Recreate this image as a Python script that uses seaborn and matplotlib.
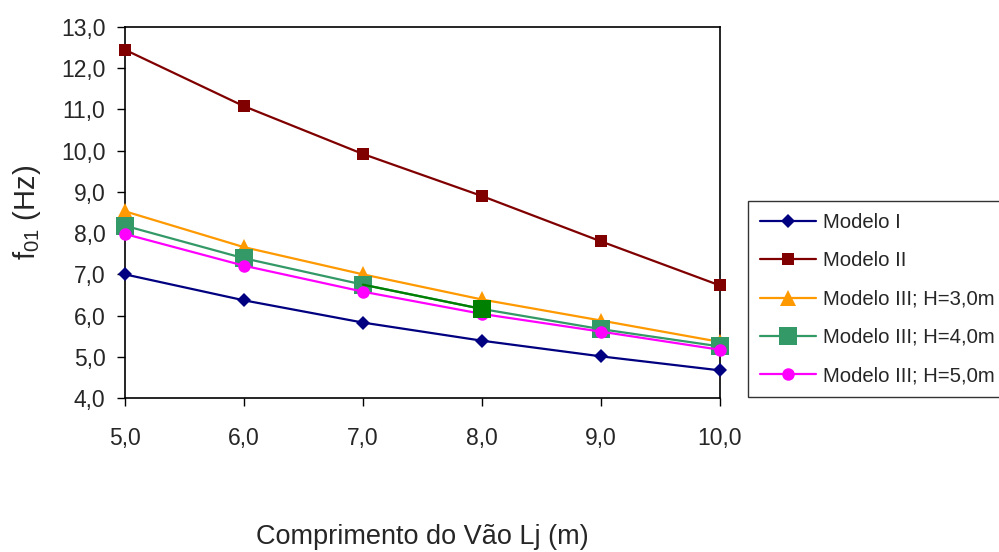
import numpy as np
import pandas as pd
import matplotlib
matplotlib.use("Agg")
import matplotlib.pyplot as plt
import seaborn as sns
from matplotlib.ticker import FuncFormatter, MultipleLocator

# span lengths (m)
vao = [5.0, 6.0, 7.0, 8.0, 9.0, 10.0]

# fundamental frequency f01 (Hz)
modelo_1 = [7.00, 6.37, 5.83, 5.39, 5.01, 4.67]
modelo_2 = [12.45, 11.08, 9.92, 8.90, 7.80, 6.73]
modelo_3_h3 = [8.53, 7.66, 7.00, 6.39, 5.88, 5.36]
modelo_3_h4 = [8.18, 7.39, 6.75, 6.16, 5.67, 5.25]
modelo_3_h5 = [7.98, 7.21, 6.58, 6.04, 5.61, 5.17]

labels = ["Modelo I", "Modelo II", "Modelo III; H=3,0m",
          "Modelo III; H=4,0m", "Modelo III; H=5,0m"]
series = [modelo_1, modelo_2, modelo_3_h3, modelo_3_h4, modelo_3_h5]

styles = {
    "Modelo I": dict(color="#000080", marker="D", markersize=7.5),
    "Modelo II": dict(color="#800000", marker="s", markersize=8),
    "Modelo III; H=3,0m": dict(color="#FF9900", marker="^", markersize=11),
    "Modelo III; H=4,0m": dict(color="#339966", marker="s", markersize=13),
    "Modelo III; H=5,0m": dict(color="#FF00FF", marker="o", markersize=9),
}

df = pd.DataFrame({
    "vao": vao * len(series),
    "f01": sum(series, []),
    "modelo": sum([[lab] * len(vao) for lab in labels], []),
})

sns.set_theme(style="white")
plt.rcParams["font.family"] = ["Liberation Sans", "DejaVu Sans"]
plt.rcParams["mathtext.fontset"] = "custom"
plt.rcParams["mathtext.rm"] = "Liberation Sans"
plt.rcParams["mathtext.it"] = "Liberation Sans"

fig = plt.figure(figsize=(9.99, 5.52), dpi=100)
ax = fig.add_axes([0.125, 0.279, 0.5957, 0.672])

for lab in labels:
    sub = df[df["modelo"] == lab]
    st = styles[lab]
    sns.lineplot(data=sub, x="vao", y="f01", ax=ax, color=st["color"],
                 marker=st["marker"], markersize=st["markersize"],
                 markeredgewidth=0, linewidth=1.6, label=lab, zorder=3)
    if lab == "Modelo III; H=4,0m":
        # the 7-8 m segment and its point are drawn darker green in the original
        seg = sub.iloc[2:4]
        ax.plot(seg["vao"], seg["f01"], color="#008000", linewidth=1.6,
                marker="s", markersize=st["markersize"], markeredgewidth=0,
                markevery=[1], zorder=3.5)

ax.set_xlim(5, 10)
ax.set_ylim(4, 13)
ax.xaxis.set_major_locator(MultipleLocator(1))
ax.yaxis.set_major_locator(MultipleLocator(1))
comma = FuncFormatter(lambda v, p: f"{v:.1f}".replace(".", ","))
ax.xaxis.set_major_formatter(comma)
ax.yaxis.set_major_formatter(comma)
ax.tick_params(axis="both", which="major", direction="out", length=6,
               width=1, color="black", labelsize=16.5, bottom=True, left=True)
ax.tick_params(axis="x", pad=15)
ax.tick_params(axis="y", pad=8)
for sp in ax.spines.values():
    sp.set_color("black")
    sp.set_linewidth(1.2)
for line in ax.lines:
    line.set_clip_on(False)

ax.set_xlabel("Comprimento do Vão Lj (m)", fontsize=19.5, labelpad=53)
ax.set_ylabel("f$_{01}$ (Hz)", fontsize=21, labelpad=13)

ax.legend_.remove()
handles, hlabels = ax.get_legend_handles_labels()
leg = fig.legend(handles, hlabels, loc="upper left",
                 bbox_to_anchor=(0.749, 0.636), bbox_transform=fig.transFigure,
                 fontsize=14.6, frameon=True, fancybox=False, borderaxespad=0,
                 handlelength=2.75, labelspacing=0.95, borderpad=0.6,
                 handletextpad=0.35)
leg.get_frame().set_edgecolor("black")
leg.get_frame().set_linewidth(1.0)

fig.savefig("out.png", dpi=100)
